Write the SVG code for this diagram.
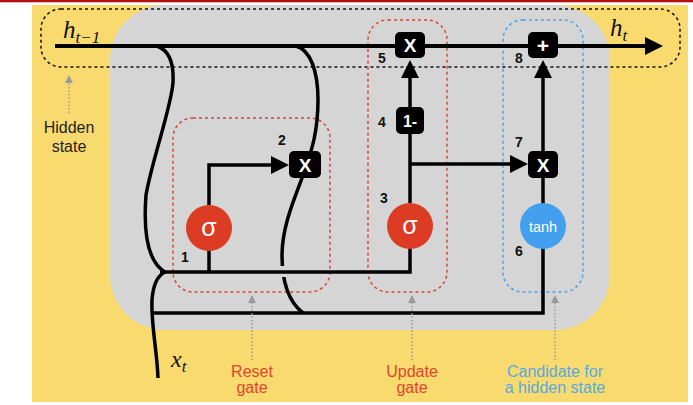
<svg xmlns="http://www.w3.org/2000/svg" width="693" height="405" viewBox="0 0 693 405">
  <defs>
    <style>
      .wire{fill:none;stroke:#000;stroke-width:3.5}
      .main{stroke-width:4}
      .op rect{fill:#000}
      .op text{fill:#fff;font-family:"Liberation Sans",Arial,sans-serif;font-weight:bold;text-anchor:middle}
      .act text{fill:#fff;font-family:"Liberation Sans",Arial,sans-serif;text-anchor:middle}
      .num{font:bold 14px "Liberation Sans",Arial,sans-serif;fill:#111;text-anchor:middle}
      .math{font-family:"Liberation Serif","Times New Roman",serif;font-style:italic;fill:#111}
      .caption{font-family:"Liberation Sans",Arial,sans-serif;font-size:16px;text-anchor:middle}
      .pointer{stroke:#9a9a9a;stroke-width:1.5;stroke-dasharray:1.5 2;fill:none}
      .outline{fill:none;stroke-width:1.5;stroke-dasharray:3 3}
    </style>
    <marker id="arrow" viewBox="0 -9 18 18" refX="0" refY="0" markerWidth="18" markerHeight="18" markerUnits="userSpaceOnUse" orient="auto">
      <path d="M0,-9 L18,0 L0,9 z" fill="#000"/>
    </marker>
    <marker id="tip" viewBox="0 -4 8 8" refX="0" refY="0" markerWidth="8" markerHeight="8" markerUnits="userSpaceOnUse" orient="auto">
      <path d="M0,-4 L8,0 L0,4 z" fill="#9a9a9a"/>
    </marker>
  </defs>

  <!-- page -->
  <rect x="0" y="0" width="693" height="405" fill="#fff"/>
  <rect x="0" y="0" width="693" height="2.3" fill="#b0100f"/>
  <rect x="32" y="5" width="656" height="397" fill="#f9da6f"/>

  <!-- cell body -->
  <rect id="cell" x="110" y="5" width="500" height="325" rx="55" fill="#d5d5d5"/>

  <!-- group outlines -->
  <g id="outlines">
    <rect id="hidden-state-band" class="outline" x="41" y="9" width="639" height="58" rx="20" stroke="#111"/>
    <rect id="reset-gate-box" class="outline" x="173" y="118" width="157" height="174" rx="20" stroke="#d8473a"/>
    <rect id="update-gate-box" class="outline" x="368" y="20" width="79" height="272" rx="20" stroke="#d8473a"/>
    <rect id="candidate-box" class="outline" x="503" y="20" width="80" height="272" rx="20" stroke="#4aa3e8"/>
  </g>

  <!-- connectors -->
  <g id="connectors">
    <!-- h(t-1) branch into the gates -->
    <path class="wire" d="M157 46 C168 50 174 62 173 82 C172 105 152 160 146 195 C143 235 148 262 165 272"/>
    <!-- x(t) input -->
    <path class="wire" d="M158 378 C157 350 151 325 152 300 C153 285 157 276 165 272"/>
    <!-- h(t-1) through reset multiply into candidate -->
    <path class="wire" d="M296 46 C310 50 318 70 318 100 C318 130 312 150 305 170 C296 195 282 225 282 255 C282 285 290 303 303 313"/>
    <!-- crossing gap -->
    <rect x="273" y="266" width="18" height="11" fill="#d5d5d5"/>
    <!-- gate input bus -->
    <path class="wire" d="M160 272 H410 V226"/>
    <path class="wire" d="M209 272 V228"/>
    <!-- candidate input bus -->
    <path class="wire" d="M152 313 H543 V226"/>
    <!-- reset gate to multiply 2 -->
    <path class="wire" d="M209 205 V165 H271" marker-end="url(#arrow)"/>
    <!-- update gate up to multiply 5 -->
    <path class="wire" d="M410 203 V78" marker-end="url(#arrow)"/>
    <!-- update gate to multiply 7 -->
    <path class="wire" d="M410 164 H510" marker-end="url(#arrow)"/>
    <!-- candidate up -->
    <path class="wire" d="M543 226 V78" marker-end="url(#arrow)"/>
    <!-- hidden state line -->
    <path class="wire main" d="M55 46 H645" marker-end="url(#arrow)"/>
    <!-- caption pointers -->
    <path class="pointer" d="M69 113 V83" marker-end="url(#tip)"/>
    <path class="pointer" d="M252 360 V303" marker-end="url(#tip)"/>
    <path class="pointer" d="M412 360 V303" marker-end="url(#tip)"/>
    <path class="pointer" d="M555 360 V303" marker-end="url(#tip)"/>
  </g>

  <!-- nodes -->
  <g id="reset-sigma" class="act">
    <circle cx="209" cy="228" r="23" fill="#dc3b24"/>
    <text x="209" y="236" font-size="25">σ</text>
  </g>
  <g id="update-sigma" class="act">
    <circle cx="410" cy="226" r="23" fill="#dc3b24"/>
    <text x="410" y="234" font-size="25">σ</text>
  </g>
  <g id="candidate-tanh" class="act">
    <circle cx="543" cy="226" r="23" fill="#42a0ef"/>
    <text x="543" y="232" font-size="14.5">tanh</text>
  </g>
  <g id="mul-2" class="op">
    <rect x="289" y="151" width="32" height="27" rx="5"/>
    <text x="305" y="171.5" font-size="19">X</text>
  </g>
  <g id="one-minus-4" class="op">
    <rect x="396" y="107" width="28" height="27" rx="5"/>
    <text x="410" y="126.5" font-size="16">1-</text>
  </g>
  <g id="mul-5" class="op">
    <rect x="395" y="32" width="30" height="26" rx="5"/>
    <text x="410" y="52" font-size="19">X</text>
  </g>
  <g id="mul-7" class="op">
    <rect x="528" y="151" width="30" height="27" rx="5"/>
    <text x="543" y="171.5" font-size="19">X</text>
  </g>
  <g id="add-8" class="op">
    <rect x="528" y="32" width="30" height="26" rx="5"/>
    <text x="543" y="52.5" font-size="21">+</text>
  </g>

  <!-- step numbers -->
  <g id="steps">
    <text class="num" x="185" y="262">1</text>
    <text class="num" x="282" y="145">2</text>
    <text class="num" x="384" y="203">3</text>
    <text class="num" x="382" y="127">4</text>
    <text class="num" x="382" y="63">5</text>
    <text class="num" x="519" y="256">6</text>
    <text class="num" x="519" y="147">7</text>
    <text class="num" x="519" y="63">8</text>
  </g>

  <!-- symbols -->
  <text class="math" x="63" y="38" font-size="25">h<tspan font-size="17" dy="5">t−1</tspan></text>
  <text class="math" x="610" y="36" font-size="25">h<tspan font-size="17" dy="5">t</tspan></text>
  <text class="math" x="171" y="367" font-size="24">x<tspan font-size="17" dy="5">t</tspan></text>

  <!-- captions -->
  <g id="captions">
    <text class="caption" x="69" y="133" fill="#222">Hidden</text>
    <text class="caption" x="69" y="152" fill="#222">state</text>
    <text class="caption" x="252" y="377" fill="#e2452b">Reset</text>
    <text class="caption" x="252" y="393" fill="#e2452b">gate</text>
    <text class="caption" x="412" y="377" fill="#e2452b">Update</text>
    <text class="caption" x="412" y="393" fill="#e2452b">gate</text>
    <text class="caption" x="555" y="377" fill="#58a9df">Candidate for</text>
    <text class="caption" x="555" y="393" fill="#58a9df">a hidden state</text>
  </g>
</svg>
